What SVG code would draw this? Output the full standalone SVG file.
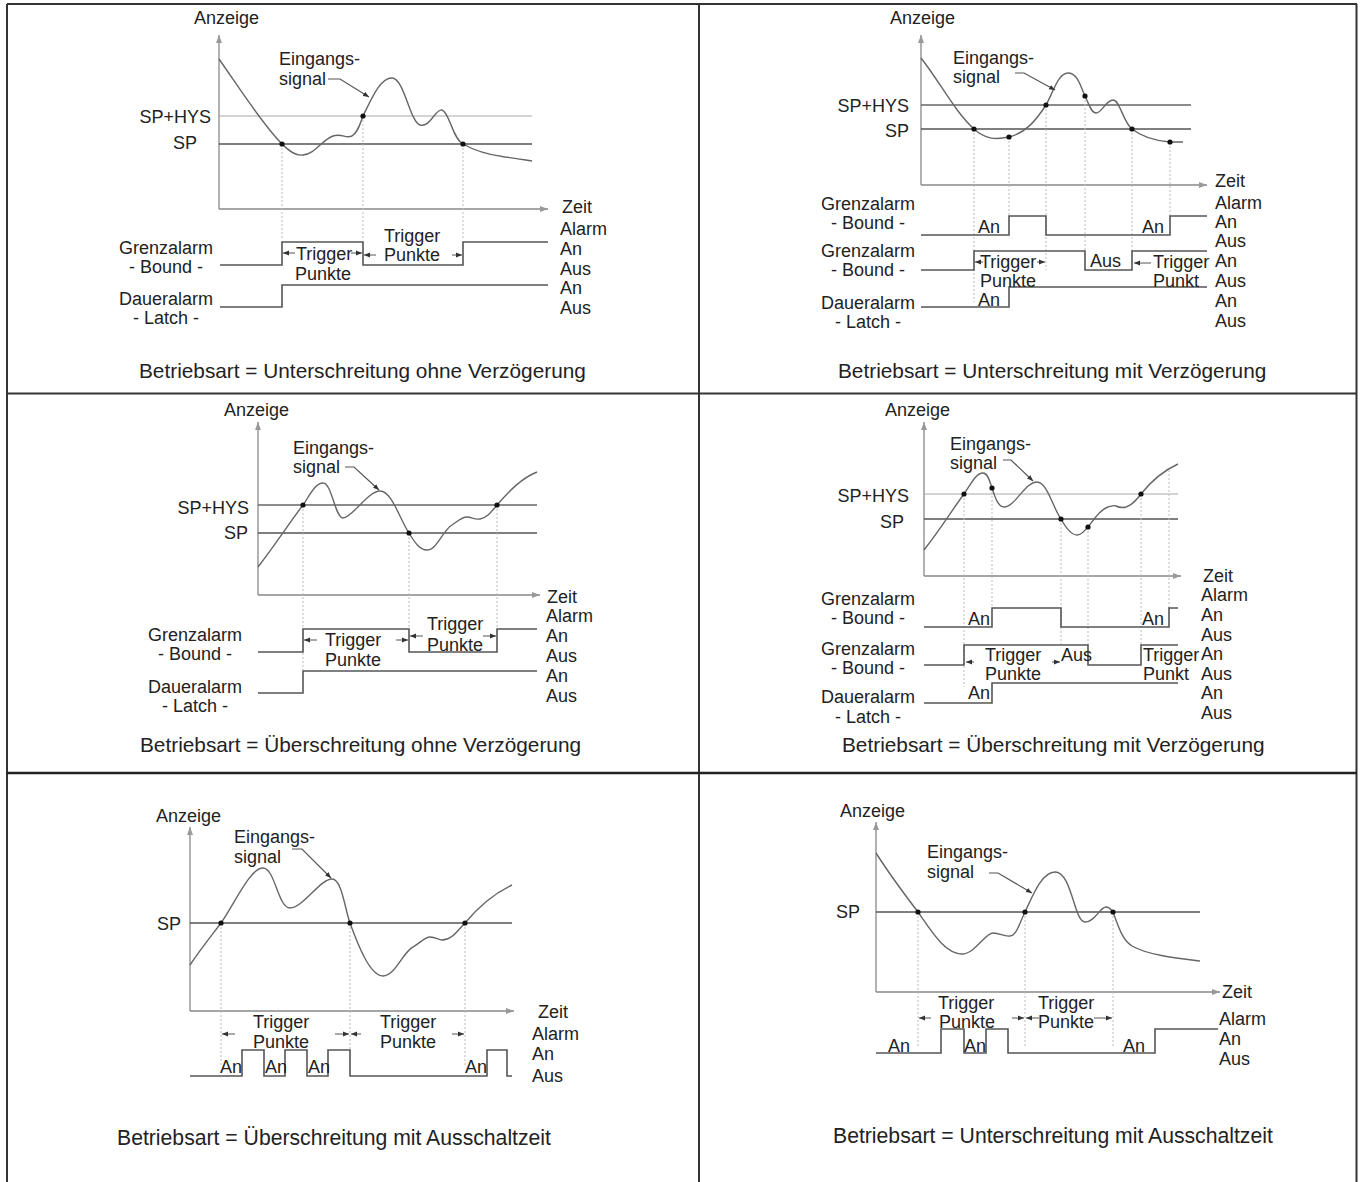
<svg xmlns="http://www.w3.org/2000/svg" width="1361" height="1182" viewBox="0 0 1361 1182">
  <style>
    .frame { stroke: #333; stroke-width: 2; fill: none; }
    .axis { stroke: #888; stroke-width: 1.3; fill: none; }
    .sp { stroke: #555; stroke-width: 1.5; }
    .hys { stroke: #aaa; stroke-width: 1.2; }
    .hysd { stroke: #666; stroke-width: 1.4; }
    .sig { stroke: #666; stroke-width: 1.4; fill: none; }
    .drop { stroke: #bbb; stroke-width: 1; stroke-dasharray: 2 2; fill: none; }
    .pulse { stroke: #555; stroke-width: 1.6; fill: none; }
    .lead { stroke: #555; stroke-width: 1.2; fill: none; }
    .tarr { stroke: #555; stroke-width: 1; fill: none; }
    .dot { fill: #111; }
    text { font-family: "Liberation Sans", Arial, sans-serif; font-size: 18px; fill: #222; }
    .ttl { font-size: 20.8px; }
    .ttl2 { font-size: 21.2px; }
    .mid { text-anchor: middle; }
    .end { text-anchor: end; }
  </style>
  <defs>
    <marker id="tip" viewBox="0 0 6 6" refX="6" refY="3" markerWidth="6" markerHeight="6" markerUnits="userSpaceOnUse" orient="auto">
      <path d="M0,0.6 L6,3 L0,5.4 Z" fill="#333"/>
    </marker>
    <marker id="axtip" viewBox="0 0 8 8" refX="8" refY="4" markerWidth="8" markerHeight="8" markerUnits="userSpaceOnUse" orient="auto">
      <path d="M0,1 L8,4 L0,7 Z" fill="#999"/>
    </marker>
  </defs>

  <rect width="1361" height="1182" fill="#fff"/>

  <!-- table frame -->
  <g id="frame" class="frame">
    <line x1="7" y1="4" x2="1357" y2="4"/>
    <line x1="7" y1="4" x2="7" y2="1182"/>
    <line x1="1356.5" y1="4" x2="1356.5" y2="1182"/>
    <line x1="699" y1="4" x2="699" y2="1182"/>
    <line x1="7" y1="393.5" x2="1357" y2="393.5"/>
    <line x1="7" y1="773" x2="1357" y2="773" stroke="#222" stroke-width="2.5"/>
  </g>

  <!-- Unterschreitung ohne Verzögerung -->
  <g id="panel-under-nodelay">
    <g class="axes">
      <line class="axis" x1="219" y1="209" x2="219" y2="35" marker-end="url(#axtip)"/>
      <line class="axis" x1="219" y1="209" x2="548" y2="209" marker-end="url(#axtip)"/>
      <line class="hys" x1="219" y1="116" x2="532" y2="116"/>
      <line class="sp" x1="219" y1="144" x2="532" y2="144"/>
    </g>
    <g class="drops">
      <line class="drop" x1="282" y1="144" x2="282" y2="238"/>
      <line class="drop" x1="363" y1="116" x2="363" y2="238"/>
      <line class="drop" x1="463" y1="144" x2="463" y2="238"/>
    </g>
    <path class="sig" d="M219,59 C238,86 262,124 282,144 C290,152 296,156 303,155 C315,154 322,140 333,136 C342,133 346,139 352,136 C358,132 360,124 363,116 C372,98 380,78 392,78 C404,78 410,122 420,125 C430,128 436,108 442,110 C450,113 452,138 463,144 C475,151 490,155 505,157 C515,158 525,160 532,161"/>
    <circle class="dot" cx="282" cy="144" r="2.6"/>
    <circle class="dot" cx="363" cy="116" r="2.6"/>
    <circle class="dot" cx="463" cy="144" r="2.6"/>
    <path class="lead" d="M328,79 L340,79 L369,97" marker-end="url(#tip)"/>
    <path class="pulse" d="M220,265 H282 V242 H363 V265 H463 V242 H548"/>
    <path class="pulse" d="M220,307 H282 V285 H548"/>
    <g class="tarrows">
      <line class="tarr" x1="295" y1="253" x2="283" y2="253" marker-end="url(#tip)"/>
      <line class="tarr" x1="351" y1="253" x2="362" y2="253" marker-end="url(#tip)"/>
      <line class="tarr" x1="376" y1="255" x2="364" y2="255" marker-end="url(#tip)"/>
      <line class="tarr" x1="452" y1="255" x2="462" y2="255" marker-end="url(#tip)"/>
    </g>
    <text x="194" y="24">Anzeige</text>
    <text x="279" y="65">Eingangs-</text>
    <text x="279" y="85">signal</text>
    <text class="end" x="211" y="123">SP+HYS</text>
    <text class="end" x="197" y="149">SP</text>
    <text x="296" y="260">Trigger</text>
    <text x="295" y="280">Punkte</text>
    <text x="384" y="242">Trigger</text>
    <text x="384" y="261">Punkte</text>
    <text class="mid" x="166" y="254">Grenzalarm</text>
    <text class="mid" x="166" y="273">- Bound -</text>
    <text class="mid" x="166" y="305">Daueralarm</text>
    <text class="mid" x="166" y="324">- Latch -</text>
    <text x="562" y="213">Zeit</text>
    <text x="560" y="235">Alarm</text>
    <text x="560" y="255">An</text>
    <text x="560" y="275">Aus</text>
    <text x="560" y="294">An</text>
    <text x="560" y="314">Aus</text>
    <text class="ttl" x="139" y="378">Betriebsart = Unterschreitung ohne Verzögerung</text>
  </g>

  <!-- Unterschreitung mit Verzögerung -->
  <g id="panel-under-delay">
    <g class="axes">
      <line class="axis" x1="921" y1="185" x2="921" y2="35" marker-end="url(#axtip)"/>
      <line class="axis" x1="921" y1="185" x2="1207" y2="185" marker-end="url(#axtip)"/>
      <line class="hysd" x1="921" y1="105" x2="1191" y2="105"/>
      <line class="sp" x1="921" y1="129" x2="1191" y2="129"/>
    </g>
    <g class="drops">
      <line class="drop" x1="974" y1="129" x2="974" y2="302"/>
      <line class="drop" x1="1009" y1="137" x2="1009" y2="216"/>
      <line class="drop" x1="1046" y1="105" x2="1046" y2="270"/>
      <line class="drop" x1="1085" y1="96" x2="1085" y2="251"/>
      <line class="drop" x1="1132" y1="129" x2="1132" y2="251"/>
      <line class="drop" x1="1170" y1="142" x2="1170" y2="216"/>
    </g>
    <path class="sig" d="M921,58 C940,82 955,112 974,129 C985,139 995,140 1009,137 C1025,133 1035,122 1046,105 C1053,93 1058,73 1068,73 C1078,73 1081,88 1085,96 C1089,104 1091,113 1096,113 C1102,113 1106,100 1113,100 C1120,100 1123,122 1132,129 C1142,137 1158,141 1170,142 C1176,142 1180,142 1183,142"/>
    <circle class="dot" cx="974" cy="129" r="2.6"/>
    <circle class="dot" cx="1009" cy="137" r="2.6"/>
    <circle class="dot" cx="1046" cy="105" r="2.6"/>
    <circle class="dot" cx="1085" cy="96" r="2.6"/>
    <circle class="dot" cx="1132" cy="129" r="2.6"/>
    <circle class="dot" cx="1170" cy="142" r="2.6"/>
    <path class="lead" d="M1015,73 L1024,73 L1055,90" marker-end="url(#tip)"/>
    <path class="pulse" d="M921,235 H1009 V216 H1046 V235 H1170 V216 H1207"/>
    <path class="pulse" d="M921,270 H974 V251 H1085 V270 H1132 V251 H1207"/>
    <path class="pulse" d="M921,307 H1009 V287 H1207"/>
    <g class="tarrows">
      <line class="tarr" x1="983" y1="262" x2="975" y2="262" marker-end="url(#tip)"/>
      <line class="tarr" x1="1037" y1="262" x2="1045" y2="262" marker-end="url(#tip)"/>
      <line class="tarr" x1="1151" y1="263" x2="1134" y2="263" marker-end="url(#tip)"/>
    </g>
    <text x="890" y="24">Anzeige</text>
    <text x="953" y="64">Eingangs-</text>
    <text x="953" y="83">signal</text>
    <text class="end" x="909" y="112">SP+HYS</text>
    <text class="end" x="909" y="137">SP</text>
    <text x="978" y="233">An</text>
    <text x="1142" y="233">An</text>
    <text x="980" y="268">Trigger</text>
    <text x="980" y="287">Punkte</text>
    <text x="978" y="306">An</text>
    <text x="1090" y="267">Aus</text>
    <text x="1153" y="268">Trigger</text>
    <text x="1153" y="287">Punkt</text>
    <text class="mid" x="868" y="210">Grenzalarm</text>
    <text class="mid" x="868" y="229">- Bound -</text>
    <text class="mid" x="868" y="257">Grenzalarm</text>
    <text class="mid" x="868" y="276">- Bound -</text>
    <text class="mid" x="868" y="309">Daueralarm</text>
    <text class="mid" x="868" y="328">- Latch -</text>
    <text x="1215" y="187">Zeit</text>
    <text x="1215" y="209">Alarm</text>
    <text x="1215" y="228">An</text>
    <text x="1215" y="247">Aus</text>
    <text x="1215" y="267">An</text>
    <text x="1215" y="287">Aus</text>
    <text x="1215" y="307">An</text>
    <text x="1215" y="327">Aus</text>
    <text class="ttl" x="838" y="378">Betriebsart = Unterschreitung mit Verzögerung</text>
  </g>

  <!-- Überschreitung ohne Verzögerung -->
  <g id="panel-over-nodelay">
    <g class="axes">
      <line class="axis" x1="258" y1="595" x2="258" y2="422" marker-end="url(#axtip)"/>
      <line class="axis" x1="258" y1="595" x2="540" y2="595" marker-end="url(#axtip)"/>
      <line class="hysd" x1="258" y1="505" x2="537" y2="505"/>
      <line class="sp" x1="258" y1="533" x2="537" y2="533"/>
    </g>
    <g class="drops">
      <line class="drop" x1="303" y1="505" x2="303" y2="670"/>
      <line class="drop" x1="409" y1="533" x2="409" y2="629"/>
      <line class="drop" x1="497" y1="505" x2="497" y2="629"/>
    </g>
    <path class="sig" d="M258,567 C275,545 290,522 303,505 C310,495 315,483 323,483 C332,483 335,518 343,518 C352,518 368,491 380,491 C392,491 400,520 409,533 C415,543 420,550 427,550 C437,550 443,530 452,525 C458,521 462,517 467,517 C472,517 474,520 480,519 C487,518 492,511 497,505 C510,490 522,478 537,472"/>
    <circle class="dot" cx="303" cy="505" r="2.6"/>
    <circle class="dot" cx="409" cy="533" r="2.6"/>
    <circle class="dot" cx="497" cy="505" r="2.6"/>
    <path class="lead" d="M345,467 L354,467 L379,490" marker-end="url(#tip)"/>
    <path class="pulse" d="M258,652 H303 V629 H409 V652 H497 V629 H537"/>
    <path class="pulse" d="M258,693 H303 V671 H537"/>
    <g class="tarrows">
      <line class="tarr" x1="317" y1="640" x2="304" y2="640" marker-end="url(#tip)"/>
      <line class="tarr" x1="396" y1="640" x2="408" y2="640" marker-end="url(#tip)"/>
      <line class="tarr" x1="423" y1="636" x2="410" y2="636" marker-end="url(#tip)"/>
      <line class="tarr" x1="483" y1="636" x2="496" y2="636" marker-end="url(#tip)"/>
    </g>
    <text x="224" y="416">Anzeige</text>
    <text x="293" y="454">Eingangs-</text>
    <text x="293" y="473">signal</text>
    <text class="end" x="249" y="514">SP+HYS</text>
    <text class="end" x="248" y="539">SP</text>
    <text x="325" y="646">Trigger</text>
    <text x="325" y="666">Punkte</text>
    <text x="427" y="630">Trigger</text>
    <text x="427" y="651">Punkte</text>
    <text class="mid" x="195" y="641">Grenzalarm</text>
    <text class="mid" x="195" y="660">- Bound -</text>
    <text class="mid" x="195" y="693">Daueralarm</text>
    <text class="mid" x="195" y="712">- Latch -</text>
    <text x="547" y="603">Zeit</text>
    <text x="546" y="622">Alarm</text>
    <text x="546" y="642">An</text>
    <text x="546" y="662">Aus</text>
    <text x="546" y="682">An</text>
    <text x="546" y="702">Aus</text>
    <text class="ttl" x="140" y="752">Betriebsart = Überschreitung ohne Verzögerung</text>
  </g>

  <!-- Überschreitung mit Verzögerung -->
  <g id="panel-over-delay">
    <g class="axes">
      <line class="axis" x1="924" y1="576" x2="924" y2="422" marker-end="url(#axtip)"/>
      <line class="axis" x1="924" y1="576" x2="1181" y2="576" marker-end="url(#axtip)"/>
      <line class="hys" x1="924" y1="494" x2="1178" y2="494"/>
      <line class="sp" x1="924" y1="519" x2="1178" y2="519"/>
    </g>
    <g class="drops">
      <line class="drop" x1="964" y1="494" x2="964" y2="687"/>
      <line class="drop" x1="992" y1="488" x2="992" y2="608"/>
      <line class="drop" x1="1061" y1="519" x2="1061" y2="645"/>
      <line class="drop" x1="1088" y1="527" x2="1088" y2="645"/>
      <line class="drop" x1="1141" y1="494" x2="1141" y2="645"/>
      <line class="drop" x1="1169" y1="470" x2="1169" y2="608"/>
    </g>
    <path class="sig" d="M924,550 C940,530 952,510 964,494 C971,484 976,473 983,473 C988,473 990,482 992,488 C995,497 998,507 1004,507 C1015,507 1025,482 1037,482 C1047,482 1053,508 1061,519 C1066,528 1071,535 1077,535 C1082,535 1085,530 1088,527 C1095,518 1100,510 1108,507 C1112,506 1114,505 1116,506 C1120,508 1122,508 1126,507 C1133,505 1137,499 1141,494 C1152,480 1165,470 1178,464"/>
    <circle class="dot" cx="964" cy="494" r="2.6"/>
    <circle class="dot" cx="992" cy="488" r="2.6"/>
    <circle class="dot" cx="1061" cy="519" r="2.6"/>
    <circle class="dot" cx="1088" cy="527" r="2.6"/>
    <circle class="dot" cx="1141" cy="494" r="2.6"/>
    <path class="lead" d="M1003,460 L1011,460 L1033,481" marker-end="url(#tip)"/>
    <path class="pulse" d="M924,627 H992 V608 H1061 V627 H1169 V608 H1178"/>
    <path class="pulse" d="M924,665 H964 V645 H1088 V665 H1141 V645 H1178"/>
    <path class="pulse" d="M924,703 H992 V683 H1178"/>
    <g class="tarrows">
      <line class="tarr" x1="974" y1="662" x2="966" y2="662" marker-end="url(#tip)"/>
      <line class="tarr" x1="1052" y1="662" x2="1060" y2="662" marker-end="url(#tip)"/>
    </g>
    <text x="885" y="416">Anzeige</text>
    <text x="950" y="450">Eingangs-</text>
    <text x="950" y="469">signal</text>
    <text class="end" x="909" y="502">SP+HYS</text>
    <text class="end" x="904" y="528">SP</text>
    <text x="968" y="625">An</text>
    <text x="1142" y="625">An</text>
    <text x="985" y="661">Trigger</text>
    <text x="985" y="680">Punkte</text>
    <text x="1061" y="661">Aus</text>
    <text x="1143" y="661">Trigger</text>
    <text x="1143" y="680">Punkt</text>
    <text x="968" y="699">An</text>
    <text class="mid" x="868" y="605">Grenzalarm</text>
    <text class="mid" x="868" y="624">- Bound -</text>
    <text class="mid" x="868" y="655">Grenzalarm</text>
    <text class="mid" x="868" y="674">- Bound -</text>
    <text class="mid" x="868" y="703">Daueralarm</text>
    <text class="mid" x="868" y="723">- Latch -</text>
    <text x="1203" y="582">Zeit</text>
    <text x="1201" y="601">Alarm</text>
    <text x="1201" y="621">An</text>
    <text x="1201" y="641">Aus</text>
    <text x="1201" y="660">An</text>
    <text x="1201" y="680">Aus</text>
    <text x="1201" y="699">An</text>
    <text x="1201" y="719">Aus</text>
    <text class="ttl" x="842" y="752">Betriebsart = Überschreitung mit Verzögerung</text>
  </g>

  <!-- Überschreitung mit Ausschaltzeit -->
  <g id="panel-over-offtime">
    <g class="axes">
      <line class="axis" x1="190" y1="1011" x2="190" y2="827" marker-end="url(#axtip)"/>
      <line class="axis" x1="190" y1="1011" x2="514" y2="1011" marker-end="url(#axtip)"/>
      <line class="sp" x1="190" y1="923" x2="512" y2="923"/>
    </g>
    <g class="drops">
      <line class="drop" x1="221" y1="923" x2="221" y2="1067"/>
      <line class="drop" x1="350" y1="923" x2="350" y2="1050"/>
      <line class="drop" x1="465" y1="923" x2="465" y2="1067"/>
    </g>
    <path class="sig" d="M190,965 C200,950 212,935 221,923 C235,903 250,868 263,868 C275,868 278,908 290,908 C303,908 320,879 332,879 C342,879 345,910 350,923 C358,945 370,976 383,976 C395,976 403,952 413,947 C420,943 425,937 430,937 C436,937 438,940 442,940 C452,940 458,930 465,923 C480,905 495,893 512,885"/>
    <circle class="dot" cx="221" cy="923" r="2.6"/>
    <circle class="dot" cx="350" cy="923" r="2.6"/>
    <circle class="dot" cx="465" cy="923" r="2.6"/>
    <path class="lead" d="M292,849 L302,849 L331,878" marker-end="url(#tip)"/>
    <path class="pulse" d="M190,1076 H242 V1050 H264 V1076 H285 V1050 H307 V1076 H328 V1050 H350 V1076 H487 V1050 H507 V1076 H512"/>
    <g class="tarrows">
      <line class="tarr" x1="235" y1="1034" x2="222" y2="1034" marker-end="url(#tip)"/>
      <line class="tarr" x1="335" y1="1034" x2="349" y2="1034" marker-end="url(#tip)"/>
      <line class="tarr" x1="361" y1="1034" x2="351" y2="1034" marker-end="url(#tip)"/>
      <line class="tarr" x1="452" y1="1034" x2="464" y2="1034" marker-end="url(#tip)"/>
    </g>
    <text x="156" y="822">Anzeige</text>
    <text x="234" y="843">Eingangs-</text>
    <text x="234" y="863">signal</text>
    <text class="end" x="181" y="930">SP</text>
    <text x="253" y="1028">Trigger</text>
    <text x="253" y="1048">Punkte</text>
    <text x="380" y="1028">Trigger</text>
    <text x="380" y="1048">Punkte</text>
    <text x="220" y="1073">An</text>
    <text x="265" y="1073">An</text>
    <text x="308" y="1073">An</text>
    <text x="465" y="1073">An</text>
    <text x="538" y="1018">Zeit</text>
    <text x="532" y="1040">Alarm</text>
    <text x="532" y="1060">An</text>
    <text x="532" y="1082">Aus</text>
    <text class="ttl2" x="117" y="1145">Betriebsart = Überschreitung mit Ausschaltzeit</text>
  </g>

  <!-- Unterschreitung mit Ausschaltzeit -->
  <g id="panel-under-offtime">
    <g class="axes">
      <line class="axis" x1="876" y1="992" x2="876" y2="822" marker-end="url(#axtip)"/>
      <line class="axis" x1="876" y1="992" x2="1220" y2="992" marker-end="url(#axtip)"/>
      <line class="sp" x1="876" y1="912" x2="1200" y2="912"/>
    </g>
    <g class="drops">
      <line class="drop" x1="918" y1="912" x2="918" y2="1047"/>
      <line class="drop" x1="1025" y1="912" x2="1025" y2="1047"/>
      <line class="drop" x1="1113" y1="912" x2="1113" y2="1047"/>
    </g>
    <path class="sig" d="M876,853 C890,875 905,895 918,912 C932,932 945,954 962,954 C975,954 985,933 993,933 C1000,933 1004,937 1010,936 C1017,935 1020,922 1025,912 C1033,895 1042,872 1055,872 C1072,872 1074,922 1085,922 C1095,922 1100,907 1106,907 C1110,907 1111,910 1113,912 C1118,925 1122,940 1132,946 C1148,955 1175,958 1200,961"/>
    <circle class="dot" cx="918" cy="912" r="2.6"/>
    <circle class="dot" cx="1025" cy="912" r="2.6"/>
    <circle class="dot" cx="1113" cy="912" r="2.6"/>
    <path class="lead" d="M989,873 L998,873 L1032,893" marker-end="url(#tip)"/>
    <path class="pulse" d="M876,1053 H941 V1029 H964 V1053 H986 V1029 H1008 V1053 H1155 V1029 H1218"/>
    <g class="tarrows">
      <line class="tarr" x1="931" y1="1018" x2="919" y2="1018" marker-end="url(#tip)"/>
      <line class="tarr" x1="1012" y1="1018" x2="1024" y2="1018" marker-end="url(#tip)"/>
      <line class="tarr" x1="1039" y1="1018" x2="1026" y2="1018" marker-end="url(#tip)"/>
      <line class="tarr" x1="1094" y1="1018" x2="1112" y2="1018" marker-end="url(#tip)"/>
    </g>
    <text x="840" y="817">Anzeige</text>
    <text x="927" y="858">Eingangs-</text>
    <text x="927" y="878">signal</text>
    <text class="end" x="860" y="918">SP</text>
    <text x="938" y="1009">Trigger</text>
    <text x="939" y="1028">Punkte</text>
    <text x="1038" y="1009">Trigger</text>
    <text x="1038" y="1028">Punkte</text>
    <text x="888" y="1052">An</text>
    <text x="964" y="1052">An</text>
    <text x="1123" y="1052">An</text>
    <text x="1222" y="998">Zeit</text>
    <text x="1219" y="1025">Alarm</text>
    <text x="1219" y="1045">An</text>
    <text x="1219" y="1065">Aus</text>
    <text class="ttl2" x="833" y="1143">Betriebsart = Unterschreitung mit Ausschaltzeit</text>
  </g>
</svg>
